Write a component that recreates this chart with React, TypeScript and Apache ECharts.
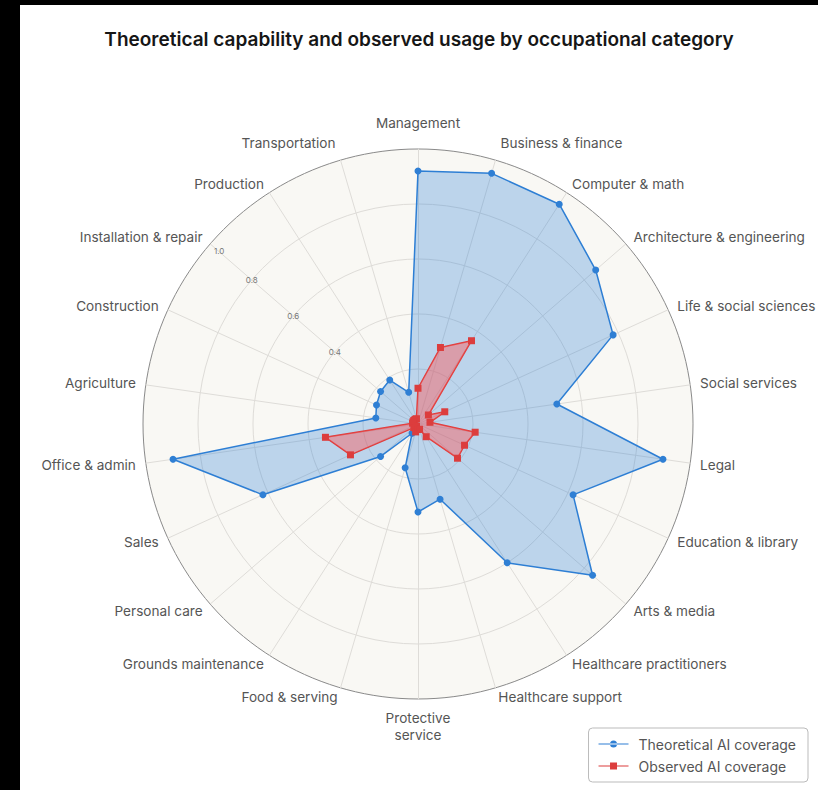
import React, { useEffect, useRef } from "react";
import * as echarts from "echarts";

const categories = [
  "Management",
  "Business & finance",
  "Computer & math",
  "Architecture & engineering",
  "Life & social sciences",
  "Social services",
  "Legal",
  "Education & library",
  "Arts & media",
  "Healthcare practitioners",
  "Healthcare support",
  "Protective\nservice",
  "Food & serving",
  "Grounds maintenance",
  "Personal care",
  "Sales",
  "Office & admin",
  "Agriculture",
  "Construction",
  "Installation & repair",
  "Production",
  "Transportation",
];

const theoretical = [
  0.92, 0.95, 0.95, 0.855, 0.78, 0.51, 0.9, 0.62, 0.84, 0.6, 0.285, 0.32,
  0.166, 0.04, 0.18, 0.62, 0.9, 0.155, 0.166, 0.18, 0.19, 0.12,
];

const observed = [
  0.13, 0.29, 0.36, 0.05, 0.107, 0.044, 0.21, 0.186, 0.19, 0.055, 0.02, 0.02,
  0.03, 0.01, 0.02, 0.27, 0.34, 0.02, 0.02, 0.02, 0.02, 0.02,
];

const tickLabels = ["0.4", "0.6", "0.8", "1.0"];
const labelAxis = "Installation & repair";
const raisedNames = ["Management", "Business & finance", "Transportation"];

const seriesNames = ["Theoretical AI coverage", "Observed AI coverage"];

export default function App() {
  const ref = useRef<HTMLDivElement>(null);

  useEffect(() => {
    if (!ref.current) return;
    const chart = echarts.init(ref.current, null, { renderer: "svg" });
    const n = categories.length;
    // ECharts radar runs counter-clockwise; reorder so the chart reads clockwise
    const order = categories.map((_, i) => (n - i) % n);
    const fontFamily = "Inter, 'Noto Sans', sans-serif";

    const indicator = order.map((idx) => {
      const name = categories[idx];
      const base: any = { name, min: 0, max: 1 };
      if (raisedNames.includes(name)) base.nameGap = 18;
      if (name === labelAxis) {
        base.axisLabel = {
          show: true,
          fontSize: 8,
          color: "#777",
          fontFamily,
          margin: 0,
          align: "center",
          verticalAlign: "middle",
          formatter: (v: number) => {
            const s = Number(v).toFixed(1);
            if (!tickLabels.includes(s)) return "";
            return s === "1.0" ? "{top|" + s + "}" : s;
          },
          rich: {
            top: { fontSize: 8, color: "#777", fontFamily, padding: [14, 0, 0, 18] },
          },
        };
      }
      return base;
    });

    const option: any = {
      animation: false,
      backgroundColor: "#ffffff",
      title: {
        text: "Theoretical capability and observed usage by occupational category",
        left: "center",
        top: 20,
        textStyle: {
          fontFamily,
          fontSize: 19,
          fontWeight: 600,
          color: "#161616",
        },
      },
      legend: {
        orient: "vertical",
        right: 10,
        bottom: 8,
        padding: [9, 12, 9, 10],
        itemGap: 8,
        itemWidth: 30,
        itemHeight: 7,
        borderColor: "#bbbbbb",
        borderWidth: 1,
        borderRadius: 4,
        backgroundColor: "#ffffff",
        textStyle: { fontFamily, fontSize: 14, color: "#555", padding: [0, 0, 0, 5] },
        data: [
          { name: seriesNames[0], icon: "path://M0,3h30v1h-30z M11.5,3.5a3.5,3.5 0 1,0 7,0a3.5,3.5 0 1,0 -7,0z" },
          { name: seriesNames[1], icon: "path://M0,3h30v1h-30z M11.5,0h7v7h-7z" },
        ],
      },
      radar: {
        center: [398, 419],
        radius: 275,
        startAngle: 90,
        shape: "circle",
        splitNumber: 5,
        indicator,
        nameGap: 10,
        axisName: {
          color: "#555",
          fontFamily,
          fontSize: 13.6,
          lineHeight: 17,
        },
        axisLabel: { show: false },
        axisLine: { lineStyle: { color: "#dedcd8", width: 1 } },
        splitLine: {
          lineStyle: {
            color: ["#dedcd8", "#dedcd8", "#dedcd8", "#dedcd8", "#dedcd8", "#8a8a8a"],
            width: 1,
          },
        },
        splitArea: { show: true, areaStyle: { color: ["#f9f8f4"] } },
      },
      series: [
        {
          type: "radar",
          z: 2,
          data: [
            {
              name: seriesNames[0],
              value: order.map((i) => theoretical[i]),
              symbol: "circle",
              symbolSize: 7,
              itemStyle: { color: "#2f7fd4" },
              lineStyle: { color: "#2f7fd4", width: 1.5 },
              areaStyle: { color: "rgba(40,125,215,0.42)" },
            },
          ],
        },
        {
          type: "radar",
          z: 3,
          data: [
            {
              name: seriesNames[1],
              value: order.map((i) => observed[i]),
              symbol: "rect",
              symbolSize: 7,
              itemStyle: { color: "#dc3d3d" },
              lineStyle: { color: "#dc3d3d", width: 1.5 },
              areaStyle: { color: "rgba(255,85,85,0.62)" },
            },
          ],
        },
      ],
    };

    chart.setOption(option);
    return () => chart.dispose();
  }, []);

  return (
    <div
      style={{
        position: "fixed",
        left: 0,
        top: 0,
        width: 818,
        height: 790,
        background: "#000",
      }}
    >
      <div
        ref={ref}
        style={{
          position: "absolute",
          left: 20,
          top: 5,
          width: 798,
          height: 785,
          background: "#fff",
        }}
      />
    </div>
  );
}
